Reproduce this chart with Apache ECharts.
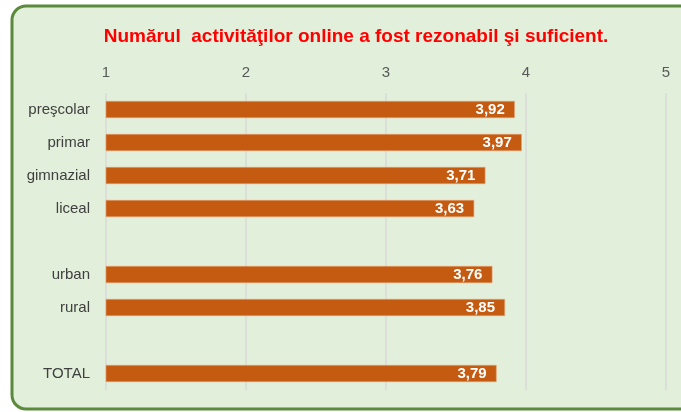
<!DOCTYPE html>
<html>
<head>
<meta charset="UTF-8">
<title>Numărul activităţilor online</title>
<style>
  html, body { margin: 0; padding: 0; background: #fff; }
  #chart { width: 681px; height: 412px; }
</style>
</head>
<body>
<div id="chart"></div>
<script src="https://cdn.jsdelivr.net/npm/echarts@6/dist/echarts.min.js"></script>
<script>
var categories = ['preşcolar', 'primar', 'gimnazial', 'liceal', ' ', 'urban', 'rural', '  ', 'TOTAL'];
var values = [3.92, 3.97, 3.71, 3.63, '-', 3.76, 3.85, '-', 3.79];
var ticks = [1, 2, 3, 4, 5];

var chart = echarts.init(document.getElementById('chart'));
var option = {
    backgroundColor: '#fff',
    textStyle: { fontFamily: 'Liberation Sans' },
    graphic: [{
        type: 'rect',
        z: -10,
        silent: true,
        shape: { x: 12, y: 6, width: 700, height: 403, r: 14 },
        style: { fill: '#E2EFDA', stroke: '#5B8A3C', lineWidth: 3 }
    }],
    title: {
        text: 'Numărul  activităţilor online a fost rezonabil şi suficient.',
        left: 351,
        top: 22,
        textAlign: 'center',
        textStyle: { color: '#FF0000', fontSize: 19, fontWeight: 'bold', fontFamily: 'Liberation Sans' }
    },
    grid: { left: 106, right: 15, top: 93, bottom: 22 },
    xAxis: {
        type: 'value',
        position: 'top',
        min: ticks[0],
        max: ticks[ticks.length - 1],
        interval: 1,
        axisLine: { show: false },
        axisTick: { show: false },
        axisLabel: { color: '#595959', fontSize: 15, margin: 13 },
        splitLine: { lineStyle: { color: '#D9D9D9', width: 1.5 } }
    },
    yAxis: {
        type: 'category',
        inverse: true,
        data: categories,
        axisLine: { show: false },
        axisTick: { show: false },
        axisLabel: { color: '#404040', fontSize: 15, margin: 16 }
    },
    series: [{
        type: 'bar',
        data: values,
        barWidth: 17,
        itemStyle: { color: '#C55A11', borderColor: '#E8A070', borderWidth: 0.6 },
        label: {
            show: true,
            position: 'insideRight',
            distance: 10,
            color: '#fff',
            fontWeight: 'bold',
            fontSize: 15,
            formatter: function (p) { return p.value.toFixed(2).replace('.', ','); }
        }
    }]
};
chart.setOption(option);
</script>
</body>
</html>
